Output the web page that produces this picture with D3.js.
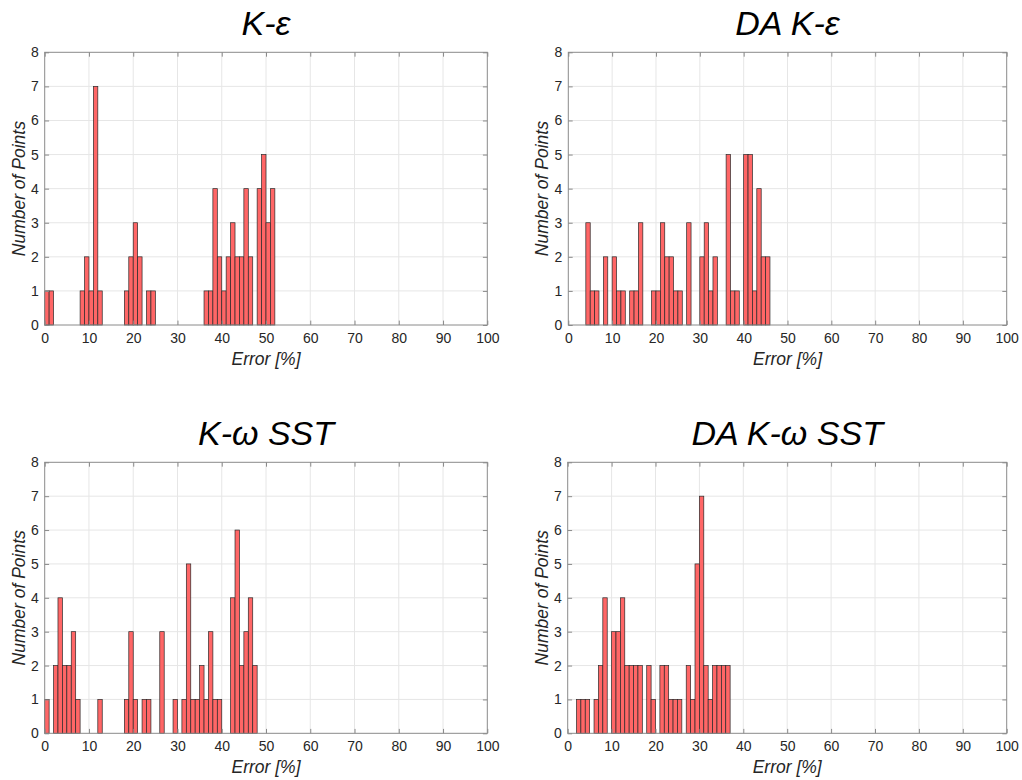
<!DOCTYPE html>
<html>
<head>
<meta charset="utf-8">
<script src="https://cdn.jsdelivr.net/npm/d3@7"></script>
<style>
  html, body { margin: 0; padding: 0; background: #fff; }
  svg { display: block; }
  text { font-family: "Liberation Sans", Arial, Helvetica, sans-serif; }
</style>
</head>
<body>
<svg id="chart" width="1022" height="780"></svg>
<script>
// ---- Data: histogram counts per 1%-wide bin, starting at bin [0,1) ----
const titles = ["K-\u03B5", "DA K-\u03B5", "K-\u03C9 SST", "DA K-\u03C9 SST"];

const countsKE = [
  1,1,0,0,0,0,0,0,1,2,
  1,7,1,0,0,0,0,0,1,2,
  3,2,0,1,1,0,0,0,0,0,
  0,0,0,0,0,0,1,1,4,2,
  1,2,3,2,2,4,2,0,4,5,
  3,4
];
const countsDAKE = [
  0,0,0,0,3,1,1,0,2,0,
  2,1,1,0,1,1,3,0,0,1,
  1,3,2,2,1,1,0,3,0,0,
  2,3,1,2,0,0,5,1,1,0,
  5,5,1,4,2,2
];
const countsKW = [
  1,0,2,4,2,2,3,1,0,0,
  0,0,1,0,0,0,0,0,1,3,
  1,0,1,1,0,0,3,0,0,1,
  0,1,5,1,1,2,1,3,1,1,
  0,0,4,6,2,3,4,2
];
const countsDAKW = [
  0,0,1,1,1,0,1,2,4,0,
  3,3,4,2,2,2,2,0,2,1,
  0,2,2,1,1,1,0,2,1,5,
  7,2,1,2,2,2,2
];

const xTicks = [0,10,20,30,40,50,60,70,80,90,100];
const yTicks = [0,1,2,3,4,5,6,7,8];
const xLabel = "Error [%]";
const yLabel = "Number of Points";

// ---- Layout ----
const seriesList = [countsKE, countsDAKE, countsKW, countsDAKW];
const boxes = [
  {x0: 44.7,  x1: 487.3,  y0: 52.3,  y1: 325},
  {x0: 568.3, x1: 1006.7, y0: 52.3,  y1: 325},
  {x0: 44.7,  x1: 487.3,  y0: 462.3, y1: 733.3},
  {x0: 567.7, x1: 1006.7, y0: 462.3, y1: 733.3}
];

const svg = d3.select("#chart");
const tickColor = "#262626";
const axisColor = "#8a8a8a";
const gridColor = "#e6e6e6";
const tickLen = 4.4;

seriesList.forEach((counts, k) => {
  const b = boxes[k];
  const x = d3.scaleLinear().domain([0, 100]).range([b.x0, b.x1]);
  const y = d3.scaleLinear().domain([0, 8]).range([b.y1, b.y0]);
  const g = svg.append("g");

  // grid
  g.selectAll(".gx").data(xTicks.slice(1, -1)).enter().append("line")
    .attr("x1", d => x(d)).attr("x2", d => x(d))
    .attr("y1", b.y0).attr("y2", b.y1)
    .attr("stroke", gridColor).attr("stroke-width", 1);
  g.selectAll(".gy").data(yTicks.slice(1, -1)).enter().append("line")
    .attr("x1", b.x0).attr("x2", b.x1)
    .attr("y1", d => y(d)).attr("y2", d => y(d))
    .attr("stroke", gridColor).attr("stroke-width", 1);

  // bars
  const bins = counts.map((c, i) => ({i, c})).filter(d => d.c > 0);
  g.selectAll(".bar").data(bins).enter().append("rect")
    .attr("x", d => x(d.i))
    .attr("width", d => x(d.i + 1) - x(d.i))
    .attr("y", d => y(d.c))
    .attr("height", d => y(0) - y(d.c))
    .attr("fill", "rgb(255,102,102)")
    .attr("stroke", "#2a2a2a")
    .attr("stroke-width", 0.7);

  // axes via d3 axis (bottom/left labels, inward ticks)
  const xAxis = d3.axisBottom(x).tickValues(xTicks).tickFormat(d3.format("d"))
    .tickSizeInner(-tickLen).tickSizeOuter(0).tickPadding(8);
  const yAxis = d3.axisLeft(y).tickValues(yTicks).tickFormat(d3.format("d"))
    .tickSizeInner(-tickLen).tickSizeOuter(0).tickPadding(6);
  const xTop = d3.axisTop(x).tickValues(xTicks).tickFormat("")
    .tickSizeInner(-tickLen).tickSizeOuter(0);
  const yRight = d3.axisRight(y).tickValues(yTicks).tickFormat("")
    .tickSizeInner(-tickLen).tickSizeOuter(0);

  const styleAxis = sel => {
    sel.select(".domain").remove();
    sel.selectAll(".tick line").attr("stroke", axisColor);
    sel.selectAll(".tick text").attr("fill", tickColor)
      .style("font-size", "14px")
      .style("font-family", "'Liberation Sans', Arial, sans-serif");
  };
  g.append("g").attr("transform", `translate(0,${b.y1})`).call(xAxis).call(styleAxis);
  g.append("g").attr("transform", `translate(${b.x0},0)`).call(yAxis).call(styleAxis);
  g.append("g").attr("transform", `translate(0,${b.y0})`).call(xTop).call(styleAxis);
  g.append("g").attr("transform", `translate(${b.x1},0)`).call(yRight).call(styleAxis);

  // box
  g.append("rect")
    .attr("x", b.x0).attr("y", b.y0)
    .attr("width", b.x1 - b.x0).attr("height", b.y1 - b.y0)
    .attr("fill", "none").attr("stroke", axisColor).attr("stroke-width", 1);

  // title
  const cx = (b.x0 + b.x1) / 2;
  g.append("text")
    .attr("x", cx).attr("y", b.y0 - 17)
    .attr("text-anchor", "middle")
    .style("font-size", "34px").style("font-style", "italic")
    .attr("fill", "#000")
    .text(titles[k]);

  // x label
  g.append("text")
    .attr("x", cx).attr("y", b.y1 + 40)
    .attr("text-anchor", "middle")
    .style("font-size", "17.5px").style("font-style", "italic")
    .attr("fill", tickColor)
    .text(xLabel);

  // y label
  const cy = (b.y0 + b.y1) / 2;
  g.append("text")
    .attr("transform", `translate(${b.x0 - 20},${cy}) rotate(-90)`)
    .attr("text-anchor", "middle")
    .style("font-size", "17.5px").style("font-style", "italic")
    .attr("fill", tickColor)
    .text(yLabel);
});
</script>
</body>
</html>
